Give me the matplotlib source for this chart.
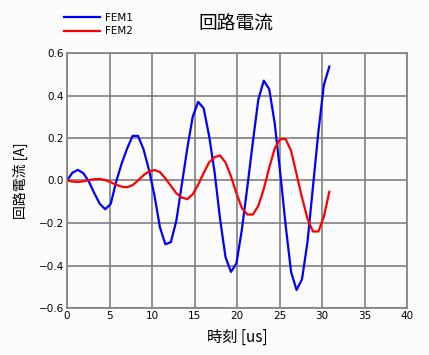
import matplotlib
matplotlib.use('Agg')
import matplotlib.pyplot as plt
import numpy as np

plt.rcParams['font.family'] = ['Noto Sans CJK JP', 'DejaVu Sans']

# sample times [us]
t = [0.0, 0.643, 1.286, 1.929, 2.572, 3.215, 3.858, 4.501, 5.144, 5.787,
     6.43, 7.073, 7.716, 8.359, 9.002, 9.645, 10.288, 10.931, 11.574, 12.217,
     12.86, 13.503, 14.146, 14.789, 15.432, 16.075, 16.718, 17.361, 18.004, 18.647,
     19.29, 19.933, 20.576, 21.219, 21.862, 22.505, 23.148, 23.791, 24.434, 25.077,
     25.72, 26.363, 27.006, 27.649, 28.292, 28.935, 29.578, 30.221, 30.864]

fem1 = [0.0, 0.037, 0.05, 0.034, -0.005, -0.06, -0.11, -0.135, -0.11, -0.005,
        0.08, 0.15, 0.21, 0.21, 0.147, 0.05, -0.07, -0.22, -0.30, -0.29,
        -0.19, -0.02, 0.15, 0.30, 0.37, 0.34, 0.21, 0.04, -0.18, -0.36,
        -0.43, -0.39, -0.23, -0.03, 0.18, 0.38, 0.47, 0.43, 0.27, 0.04,
        -0.21, -0.43, -0.515, -0.465, -0.29, -0.03, 0.23, 0.45, 0.536]

fem2 = [0.0, -0.005, -0.007, -0.004, 0.002, 0.006, 0.007, 0.002, -0.008, -0.02,
        -0.029, -0.032, -0.022, 0.0, 0.025, 0.043, 0.049, 0.04, 0.01, -0.025,
        -0.06, -0.08, -0.088, -0.065, -0.02, 0.035, 0.085, 0.11, 0.118, 0.085,
        0.02, -0.06, -0.13, -0.16, -0.16, -0.12, -0.04, 0.06, 0.15, 0.195,
        0.195, 0.14, 0.03, -0.08, -0.18, -0.24, -0.24, -0.17, -0.053]

fig = plt.figure(figsize=(4.29, 3.55), dpi=100, facecolor='#fcfcfc')
ax = fig.add_axes([67/429, 47/355, 340/429, 255/355], facecolor='#fcfcfc')

l1, = ax.plot(t, fem1, color='#0000ff', lw=1.6, label='FEM1')
l2, = ax.plot(t, fem2, color='#ff0000', lw=1.6, label='FEM2')

ax.set_xlim(0, 40)
ax.set_ylim(-0.6, 0.6)
ax.set_xticks(np.arange(0, 41, 5))
ax.set_yticks(np.arange(-0.6, 0.61, 0.2))
ax.set_yticklabels(['−0.6', '−0.4', '−0.2', '0.0', '0.2', '0.4', '0.6'])
ax.grid(True, color='#808080', lw=1.2)
ax.set_axisbelow(True)
for s in ax.spines.values():
    s.set_color('#808080')
    s.set_linewidth(1.2)
ax.tick_params(length=0, pad=2, labelsize=7.5, colors='black')
for lab in ax.get_xticklabels() + ax.get_yticklabels():
    lab.set_family('DejaVu Sans')

ax.set_xlabel('時刻 [us]', fontsize=11, labelpad=6)
ax.set_ylabel('回路電流 [A]', fontsize=10, labelpad=8)

fig.text(236/429, 1 - 24/355, '回路電流', fontsize=13.5, ha='center', va='center')

leg = fig.legend(handles=[l1, l2], loc='upper left', bbox_to_anchor=(62/429, 1 - 11/355),
                 frameon=False, fontsize=7.5, handlelength=3.4, handletextpad=0.5,
                 labelspacing=0.3, borderaxespad=0, borderpad=0.2)
for txt in leg.get_texts():
    txt.set_family('DejaVu Sans')

fig.savefig('out.png', dpi=100, facecolor=fig.get_facecolor())
